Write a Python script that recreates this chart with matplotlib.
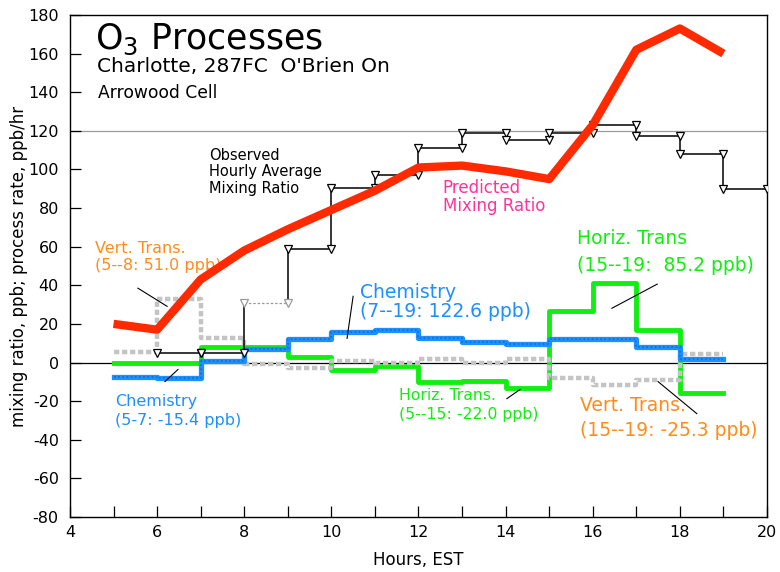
import matplotlib

matplotlib.use("Agg")

import matplotlib.pyplot as plt  # noqa: E402

plt.rcParams["font.family"] = ["DejaVu Sans"]
plt.rcParams["axes.unicode_minus"] = False

# predicted mixing ratio (ppb), hourly
pred_hours = [5, 6, 7, 8, 9, 10, 11, 12, 13, 14, 15, 16, 17, 18, 19]
pred_values = [20, 17, 43, 58, 69, 79, 89, 101, 102, 99, 95, 123, 162, 173, 160]

# observed hourly average mixing ratio, one value per hour segment starting at obs_start
obs_start = 6
obs_values = [5, 5, 31, 59, 90.5, 97, 111, 119, 115.5, 119, 123, 117.5, 108, 90]
obs_missing = [8]  # hour segment drawn as dashed grey

# process rates (ppb/hr), one value per hour segment 5-6 ... 18-19
proc_hours = list(range(5, 20))
chemistry = [-7.5, -8, 1, 7, 12, 16, 17, 12.5, 10.5, 9.5, 12, 12, 8, 2]
horiz_trans = [0, 0, 8, 8, 3, -4, -2, -10, -9.5, -13, 26.5, 41, 17, -16]
vert_trans = [5.5, 33, 12.5, -1, -3, 1, -0.5, 2, -0.5, 2, -8, -11.5, -9, 4.5]

BLUE = "#1e8fff"
GREEN = "#11ee11"
GREY = "#c4c4c4"
RED = "#ff2a00"
ORANGE = "#ff8c1a"
PINK = "#ff3399"

fig = plt.figure(figsize=(7.8, 5.72), dpi=100)
ax = fig.add_axes([0.0897, 0.0962, 0.8936, 0.8776])

ax.axhline(0, color="black", lw=0.9, zorder=1)
ax.axhline(120, color="#9a9a9a", lw=0.9, zorder=1)

ax.step(proc_hours, horiz_trans + horiz_trans[-1:], where="post", color=GREEN, lw=3.5, zorder=2)
ax.step(proc_hours, vert_trans + vert_trans[-1:], where="post", color=GREY, lw=3.2,
        dashes=(1.2, 0.6), zorder=3)
ax.step(proc_hours, chemistry + chemistry[-1:], where="post", color=BLUE, lw=3.8, zorder=4)
ax.step(proc_hours, chemistry + chemistry[-1:], where="post", color="#0a6fd6", lw=1.2,
        dashes=(1, 1.5), zorder=4)

# observed step line with open triangles at each segment end
for i, v in enumerate(obs_values):
    h = obs_start + i
    if h in obs_missing:
        ax.plot([h, h + 1], [v, v], color="#9a9a9a", lw=0.9, dashes=(2, 1.5), zorder=5)
    else:
        ax.plot([h, h + 1], [v, v], color="black", lw=1.1, zorder=5)
    if i > 0:
        ax.plot([h, h], [obs_values[i - 1], v], color="black", lw=1.1, zorder=5)
    mcolor = "#9a9a9a" if h in obs_missing else "black"
    ax.plot([h, h + 1], [v, v], ls="none", marker="v", ms=6, mfc="white", mec=mcolor,
            mew=0.9, zorder=6)

ax.plot(pred_hours, pred_values, color=RED, lw=6, solid_capstyle="butt", zorder=7)

ax.set_xlim(4, 20)
ax.set_ylim(-80, 180)
ax.set_xticks(range(4, 21, 2))
ax.set_xticks(range(5, 20, 2), minor=True)
ax.set_yticks(range(-80, 181, 20))
ax.tick_params(axis="both", which="both", direction="in", length=8, width=0.9,
               labelsize=11.5, top=False, right=False)
ax.tick_params(axis="x", pad=6)
ax.tick_params(axis="y", pad=8)
for s in ax.spines.values():
    s.set_linewidth(1.0)

ax.set_xlabel("Hours, EST", fontsize=12, labelpad=8)
ax.set_ylabel("mixing ratio, ppb; process rate, ppb/hr", fontsize=12, labelpad=0)

ax.text(4.57, 176.5, "O$_3$ Processes", fontsize=25, va="top")
ax.text(4.62, 158, "Charlotte, 287FC  O'Brien On", fontsize=14.5, va="top")
ax.text(4.64, 144, "Arrowood Cell", fontsize=12.3, va="top")
ax.text(7.19, 111, "Observed\nHourly Average\nMixing Ratio", fontsize=10.5, va="top",
        linespacing=1.1)
ax.text(12.56, 95, "Predicted\nMixing Ratio", fontsize=12, va="top", color=PINK,
        linespacing=1.0)
ax.text(4.57, 63, "Vert. Trans.\n(5--8: 51.0 ppb)", fontsize=11.5, va="top", color=ORANGE,
        linespacing=1.15)
ax.text(10.66, 41, "Chemistry\n(7--19: 122.6 ppb)", fontsize=13.5, va="top", color=BLUE,
        linespacing=1.0)
ax.text(15.64, 69, "Horiz. Trans\n(15--19:  85.2 ppb)", fontsize=13.5, va="top", color=GREEN,
        linespacing=1.5)
ax.text(5.03, -16.5, "Chemistry\n(5-7: -15.4 ppb)", fontsize=11.5, va="top", color=BLUE,
        linespacing=1.3)
ax.text(11.55, -13, "Horiz. Trans.\n(5--15: -22.0 ppb)", fontsize=11.3, va="top", color=GREEN,
        linespacing=1.35)
ax.text(15.71, -17.5, "Vert. Trans.\n(15--19: -25.3 ppb)", fontsize=13.5, va="top", color=ORANGE,
        linespacing=1.4)

# leader lines
leaders = [
    ((5.56, 38.5), (6.23, 29.1)),
    ((10.5, 34.3), (10.36, 12.5)),
    ((6.48, -3.6), (6.18, -9.9)),
    ((17.48, 40.6), (16.44, 28.1)),
    ((14.03, -18.7), (14.33, -14)),
    ((17.5, -9.9), (18.39, -26.5)),
]
for (x0, y0), (x1, y1) in leaders:
    ax.plot([x0, x1], [y0, y1], color="black", lw=0.8, zorder=8)

fig.savefig("out.png", dpi=100)
